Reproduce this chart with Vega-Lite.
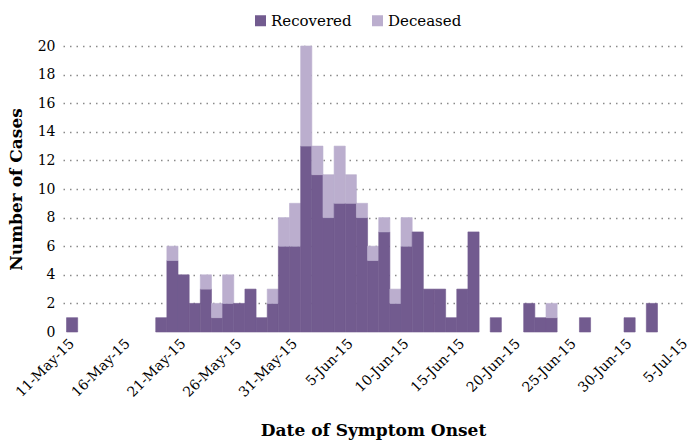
{
  "$schema": "https://vega.github.io/schema/vega-lite/v6.json",
  "width": 620,
  "height": 286,
  "autosize": {"type": "none"},
  "padding": {"left": 63, "top": 46, "right": 6, "bottom": 108},
  "background": "white",
  "data": {
    "values": [
      {"date": "2015-05-11", "status": "Recovered", "cases": 1},
      {"date": "2015-05-19", "status": "Recovered", "cases": 1},
      {"date": "2015-05-20", "status": "Recovered", "cases": 5},
      {"date": "2015-05-20", "status": "Deceased", "cases": 1},
      {"date": "2015-05-21", "status": "Recovered", "cases": 4},
      {"date": "2015-05-22", "status": "Recovered", "cases": 2},
      {"date": "2015-05-23", "status": "Recovered", "cases": 3},
      {"date": "2015-05-23", "status": "Deceased", "cases": 1},
      {"date": "2015-05-24", "status": "Recovered", "cases": 1},
      {"date": "2015-05-24", "status": "Deceased", "cases": 1},
      {"date": "2015-05-25", "status": "Recovered", "cases": 2},
      {"date": "2015-05-25", "status": "Deceased", "cases": 2},
      {"date": "2015-05-26", "status": "Recovered", "cases": 2},
      {"date": "2015-05-27", "status": "Recovered", "cases": 3},
      {"date": "2015-05-28", "status": "Recovered", "cases": 1},
      {"date": "2015-05-29", "status": "Recovered", "cases": 2},
      {"date": "2015-05-29", "status": "Deceased", "cases": 1},
      {"date": "2015-05-30", "status": "Recovered", "cases": 6},
      {"date": "2015-05-30", "status": "Deceased", "cases": 2},
      {"date": "2015-05-31", "status": "Recovered", "cases": 6},
      {"date": "2015-05-31", "status": "Deceased", "cases": 3},
      {"date": "2015-06-01", "status": "Recovered", "cases": 13},
      {"date": "2015-06-01", "status": "Deceased", "cases": 7},
      {"date": "2015-06-02", "status": "Recovered", "cases": 11},
      {"date": "2015-06-02", "status": "Deceased", "cases": 2},
      {"date": "2015-06-03", "status": "Recovered", "cases": 8},
      {"date": "2015-06-03", "status": "Deceased", "cases": 3},
      {"date": "2015-06-04", "status": "Recovered", "cases": 9},
      {"date": "2015-06-04", "status": "Deceased", "cases": 4},
      {"date": "2015-06-05", "status": "Recovered", "cases": 9},
      {"date": "2015-06-05", "status": "Deceased", "cases": 2},
      {"date": "2015-06-06", "status": "Recovered", "cases": 8},
      {"date": "2015-06-06", "status": "Deceased", "cases": 1},
      {"date": "2015-06-07", "status": "Recovered", "cases": 5},
      {"date": "2015-06-07", "status": "Deceased", "cases": 1},
      {"date": "2015-06-08", "status": "Recovered", "cases": 7},
      {"date": "2015-06-08", "status": "Deceased", "cases": 1},
      {"date": "2015-06-09", "status": "Recovered", "cases": 2},
      {"date": "2015-06-09", "status": "Deceased", "cases": 1},
      {"date": "2015-06-10", "status": "Recovered", "cases": 6},
      {"date": "2015-06-10", "status": "Deceased", "cases": 2},
      {"date": "2015-06-11", "status": "Recovered", "cases": 7},
      {"date": "2015-06-12", "status": "Recovered", "cases": 3},
      {"date": "2015-06-13", "status": "Recovered", "cases": 3},
      {"date": "2015-06-14", "status": "Recovered", "cases": 1},
      {"date": "2015-06-15", "status": "Recovered", "cases": 3},
      {"date": "2015-06-16", "status": "Recovered", "cases": 7},
      {"date": "2015-06-18", "status": "Recovered", "cases": 1},
      {"date": "2015-06-21", "status": "Recovered", "cases": 2},
      {"date": "2015-06-22", "status": "Recovered", "cases": 1},
      {"date": "2015-06-23", "status": "Recovered", "cases": 1},
      {"date": "2015-06-23", "status": "Deceased", "cases": 1},
      {"date": "2015-06-26", "status": "Recovered", "cases": 1},
      {"date": "2015-06-30", "status": "Recovered", "cases": 1},
      {"date": "2015-07-02", "status": "Recovered", "cases": 2}
    ]
  },
  "mark": {"type": "bar", "binSpacing": 0, "strokeWidth": 0.6},
  "encoding": {
    "x": {
      "field": "date",
      "type": "temporal",
      "timeUnit": "utcyearmonthdate",
      "scale": {
        "domain": [
          {"year": 2015, "month": 5, "date": 10, "hours": 17, "minutes": 30, "utc": true},
          {"year": 2015, "month": 7, "date": 5, "hours": 8, "utc": true}
        ]
      },
      "axis": {
        "title": "Date of Symptom Onset",
        "values": [
          {"year": 2015, "month": 5, "date": 11, "utc": true},
          {"year": 2015, "month": 5, "date": 16, "utc": true},
          {"year": 2015, "month": 5, "date": 21, "utc": true},
          {"year": 2015, "month": 5, "date": 26, "utc": true},
          {"year": 2015, "month": 5, "date": 31, "utc": true},
          {"year": 2015, "month": 6, "date": 5, "utc": true},
          {"year": 2015, "month": 6, "date": 10, "utc": true},
          {"year": 2015, "month": 6, "date": 15, "utc": true},
          {"year": 2015, "month": 6, "date": 20, "utc": true},
          {"year": 2015, "month": 6, "date": 25, "utc": true},
          {"year": 2015, "month": 6, "date": 30, "utc": true},
          {"year": 2015, "month": 7, "date": 5, "utc": true}
        ],
        "format": "%-d-%b-%y",
        "labelAngle": -45,
        "labelAlign": "right",
        "labelBaseline": "middle",
        "labelOffset": 5.6,
        "labelPadding": 9,
        "labelFont": "DejaVu Serif",
        "labelFontSize": 14,
        "labelColor": "#000",
        "labelOverlap": false,
        "labelBound": false,
        "labelFlush": false,
        "ticks": false,
        "domain": false,
        "grid": false,
        "titleFont": "DejaVu Serif",
        "titleFontSize": 17,
        "titleFontWeight": "bold",
        "titleColor": "#000",
        "titlePadding": 23
      }
    },
    "y": {
      "aggregate": "sum",
      "field": "cases",
      "type": "quantitative",
      "stack": "zero",
      "scale": {"domain": [0, 20], "nice": false},
      "axis": {
        "title": "Number of Cases",
        "values": [0, 2, 4, 6, 8, 10, 12, 14, 16, 18, 20],
        "labelFont": "DejaVu Serif",
        "labelFontSize": 14,
        "labelColor": "#000",
        "labelPadding": 8,
        "ticks": false,
        "domain": false,
        "grid": true,
        "gridColor": "#8a8a8a",
        "gridDash": [1.5, 5],
        "gridWidth": 1.3,
        "gridOpacity": {"condition": {"test": "datum.value === 0", "value": 0}, "value": 1},
        "titleFont": "DejaVu Serif",
        "titleFontSize": 17,
        "titleFontWeight": "bold",
        "titleColor": "#000",
        "titlePadding": 12
      }
    },
    "color": {
      "field": "status",
      "type": "nominal",
      "scale": {"domain": ["Recovered", "Deceased"], "range": ["#725b8f", "#bbaece"]},
      "legend": {
        "title": null,
        "orient": "none",
        "direction": "horizontal",
        "legendX": 190,
        "legendY": -33,
        "symbolType": "square",
        "symbolSize": 121,
        "symbolStrokeWidth": 0,
        "labelFont": "DejaVu Serif",
        "labelFontSize": 15,
        "labelColor": "#000",
        "labelOffset": 3,
        "columnPadding": 18
      }
    },
    "stroke": {
      "field": "status",
      "type": "nominal",
      "scale": {"domain": ["Recovered", "Deceased"], "range": ["#725b8f", "#bbaece"]},
      "legend": null
    },
    "order": {"field": "status", "sort": "descending"}
  },
  "config": {"view": {"stroke": null}}
}
